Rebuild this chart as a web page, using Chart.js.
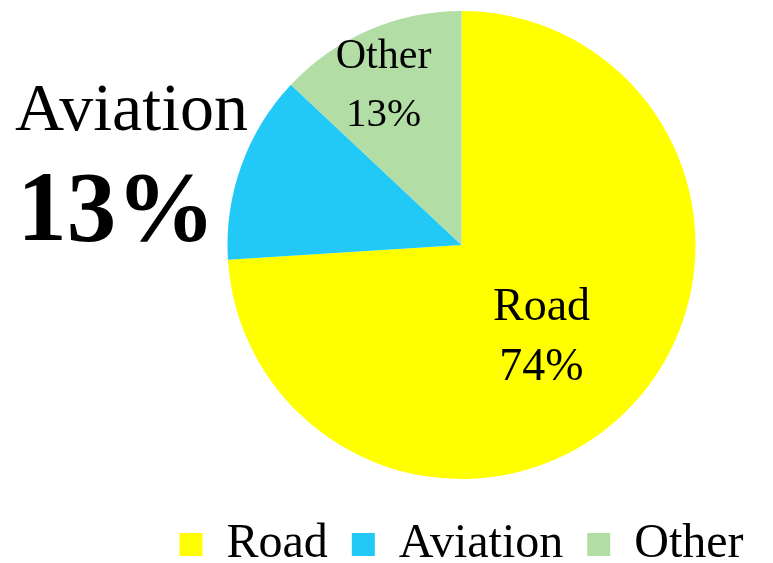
<!DOCTYPE html>
<html><head><meta charset="utf-8">
<script src="https://cdn.jsdelivr.net/npm/chart.js@4/dist/chart.umd.min.js"></script>
<style>html,body{margin:0;padding:0;background:#fff}</style>
</head><body>
<canvas id="c" width="773" height="563"></canvas>
<script>
const categories = ['Road', 'Aviation', 'Other'];
const shares = [74, 13, 13];
const sliceColors = ['#FFFF00', '#22C9F6', '#B2DEA6'];

const SERIF = '"Liberation Serif", "Times New Roman", serif';

// label placement (relative to pie centre, in units of the radius) and styles
const labelStyle = [
  [{dx: 0.342, dy: 0.32, size: 46, weight: 'normal'}, {dx: 0.342, dy: 0.577, size: 46, weight: 'normal'}],
  [{dx: -1.41, dy: -0.49, size: 68, weight: 'normal'}, {dx: -1.475, dy: -0.021, size: 99, weight: 'bold'}],
  [{dx: -0.333, dy: -0.756, size: 42, weight: 'normal'}, {dx: -0.333, dy: -0.509, size: 41, weight: 'normal'}]
];

const sliceLabels = {
  id: 'sliceLabels',
  afterDatasetsDraw(chart) {
    const meta = chart.getDatasetMeta(0);
    const ctx = chart.ctx;
    meta.data.forEach((arc, i) => {
      const {x, y, outerRadius} = arc.getProps(['x', 'y', 'outerRadius'], true);
      const texts = [categories[i], shares[i] + '%'];
      labelStyle[i].forEach((st, j) => {
        ctx.save();
        ctx.font = st.weight + ' ' + st.size + 'px ' + SERIF;
        ctx.fillStyle = '#000';
        ctx.textAlign = 'center';
        ctx.textBaseline = 'alphabetic';
        ctx.fillText(texts[j], x + st.dx * outerRadius, y + st.dy * outerRadius);
        ctx.restore();
      });
    });
  }
};

new Chart(document.getElementById('c'), {
  type: 'pie',
  data: {
    labels: categories,
    datasets: [{
      data: shares,
      backgroundColor: sliceColors,
      borderWidth: 0,
      hoverOffset: 0
    }]
  },
  options: {
    responsive: false,
    animation: false,
    events: [],
    layout: {padding: {left: 150, top: 11, right: 0, bottom: -15.5}},
    plugins: {
      tooltip: {enabled: false},
      legend: {
        position: 'bottom',
        align: 'center',
        title: {display: true, text: ' ', padding: 0, font: {size: 17.5, lineHeight: 1}},
        labels: {
          boxWidth: 23,
          boxHeight: 23,
          padding: 24,
          color: '#000',
          font: {family: SERIF, size: 48}
        }
      }
    }
  },
  plugins: [sliceLabels]
});
</script>
</body></html>
